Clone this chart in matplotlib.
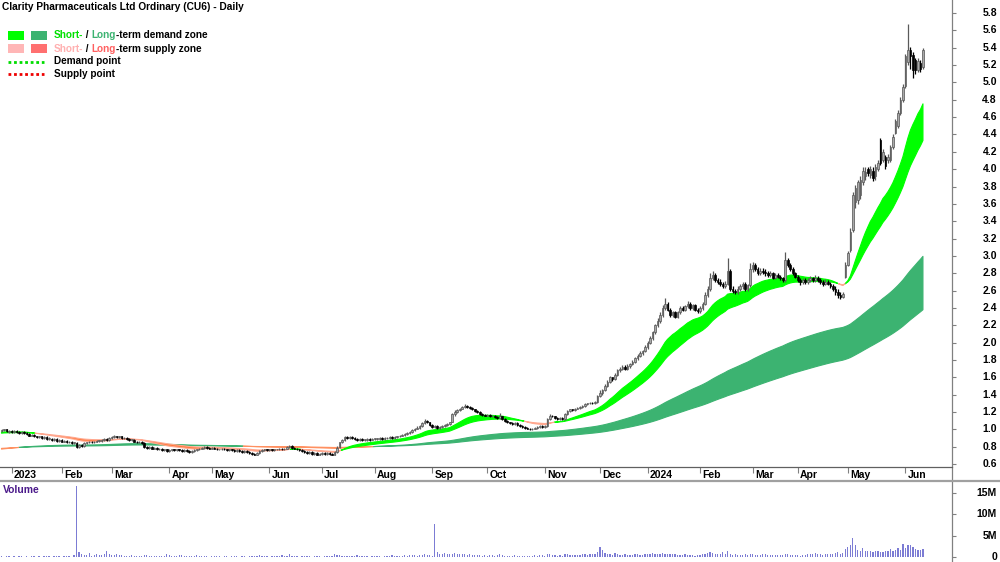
import numpy as np
import matplotlib
matplotlib.use('Agg')
import matplotlib.pyplot as plt
from matplotlib.patches import Rectangle
from matplotlib.lines import Line2D
from matplotlib.transforms import blended_transform_factory

FONT = ['Liberation Sans', 'DejaVu Sans']

# ---------------- data (prices in cents, volume in 0.1M) ----------------
opens = [
98,99,100,97,98,97,98,97,96,97, 96,95,93,94,92,91,92,90,91,89,
89,88,89,87,88,86,87,85,86,84, 84,80,82,81,84,85,86,85,86,87,
87,88,89,88,90,91,92,91,92,90, 90,89,88,88,86,85,86,84,80,79,
80,78,79,77,78,76,77,75,76,77, 76,77,76,75,76,75,74,75,76,77,
78,79,80,79,78,79,78,77,77,78, 77,76,77,76,75,76,75,74,75,74,
73,72,71,73,75,76,77,76,77,76, 77,77,78,77,78,80,81,79,78,77,
76,75,74,73,74,72,73,71,72,73, 72,73,72,71,74,80,85,88,91,90,
91,90,89,88,89,88,88,89,88,89, 89,89,90,89,90,90,91,90,91,92,
93,94,95,96,97,99,101,102,104,107, 110,108,105,103,104,102,103,104,105,106,
109,118,120,122,124,126,127,126,125,123, 121,120,118,117,116,117,115,116,114,113,
115,112,110,108,107,106,107,105,104,103, 102,101,100,101,102,103,104,103,104,112,
116,115,113,112,113,112,118,121,123,122, 124,125,126,127,129,130,131,130,132,138,
142,145,150,155,160,158,163,168,170,172, 170,173,175,178,182,185,188,190,195,200,
205,212,220,225,232,240,245,238,232,235, 230,235,240,238,242,245,240,243,238,236,
240,245,255,262,275,278,272,270,268,265, 268,283,262,260,258,262,265,268,262,266,
285,290,285,280,283,282,280,278,280,275, 278,276,274,272,295,290,285,280,276,272,
270,272,270,272,274,272,275,272,270,268, 270,268,265,262,258,255,253,276,290,307,
330,362,365,370,385,392,400,393,398,392, 400,434,410,414,410,410,425,442,450,465,
480,496,523,537,532,526,514,522,518]
highs = [
101,101,101,99,99,99,99,98,98,98, 97,96,95,95,93,93,93,92,92,91,
90,90,90,89,89,88,88,87,87,86, 85,83,83,85,86,87,87,87,88,88,
89,90,90,91,92,94,93,93,93,91, 91,90,89,89,87,87,87,85,81,81,
81,80,80,79,79,78,78,77,78,78, 78,78,77,77,77,76,76,77,78,79,
80,81,81,80,80,80,79,78,79,79, 78,78,78,77,77,77,76,76,76,75,
74,73,74,76,77,78,78,78,78,78, 78,79,79,79,81,82,82,80,79,78,
77,76,75,75,75,74,74,73,74,74, 74,74,73,75,81,86,89,92,92,92,
92,91,90,90,90,89,90,90,90,90, 90,91,91,91,91,92,92,92,93,94,
95,96,97,98,100,102,104,105,109,112, 111,109,106,105,105,104,105,106,107,109,
119,122,123,125,127,129,128,127,126,124, 122,121,119,118,118,118,117,117,115,119,
116,113,111,109,108,108,108,106,105,104, 103,102,102,103,104,105,105,105,113,118,
117,116,114,114,114,119,122,124,124,125, 126,127,128,130,131,132,132,133,140,146,
147,152,157,162,161,165,170,172,174,174, 175,177,180,184,187,190,192,197,202,208,
214,222,228,235,243,252,247,240,237,237, 237,242,242,244,248,247,245,245,240,242,
247,258,265,280,283,280,275,273,270,271, 298,285,265,262,265,268,270,270,268,292,
293,292,287,286,286,285,283,283,282,280, 280,278,276,304,298,292,287,282,278,275,
275,274,275,277,276,278,277,274,272,273, 272,270,268,265,262,258,258,293,306,332,
374,382,388,392,402,403,403,404,402,406, 410,436,423,416,418,428,440,458,468,483,
498,533,567,541,535,528,528,526,540]
lows = [
97,98,97,96,96,96,96,95,95,95, 94,92,92,91,90,90,89,89,88,88,
87,87,86,86,85,85,84,84,83,83, 79,79,80,80,83,84,84,84,85,86,
86,87,87,87,89,90,90,90,89,89, 88,87,87,85,84,84,83,79,78,78,
77,77,76,76,75,75,74,74,75,75, 75,75,74,74,74,73,73,74,75,76,
77,78,78,77,77,77,76,76,76,76, 75,75,75,74,74,74,73,73,73,72,
71,70,70,72,74,75,75,75,75,75, 76,76,76,76,77,79,78,77,76,75,
74,73,72,72,71,71,70,70,71,71, 71,71,70,70,73,79,84,87,89,89,
89,88,87,87,87,87,87,87,88,88, 88,88,88,88,89,89,89,89,90,91,
92,93,94,95,96,98,100,101,103,106, 107,104,102,102,101,101,102,103,104,105,
108,116,119,121,123,125,125,124,122,120, 119,117,116,115,115,114,114,113,112,112,
111,109,107,106,105,105,104,103,102,101, 100,99,99,100,101,102,102,102,103,111,
114,112,111,111,111,111,117,120,121,121, 123,124,125,126,128,129,129,129,131,137,
140,144,149,154,156,157,162,166,168,168, 169,171,174,177,180,183,186,189,193,198,
203,210,218,223,230,238,236,230,230,228, 228,233,236,236,240,238,238,236,234,234,
238,243,253,260,272,270,268,265,263,263, 266,260,257,256,256,260,262,260,260,264,
282,283,278,278,279,277,276,276,273,273, 274,272,270,270,287,283,278,274,270,267,
268,268,268,270,270,270,270,268,265,266, 266,263,260,255,252,250,251,274,288,305,
328,355,360,366,382,388,392,390,386,388, 398,405,408,400,407,408,423,440,448,462,
478,494,520,515,505,510,512,512,515]
closes = [
99,100,98,98,97,98,97,96,97,96, 95,93,94,92,91,92,90,91,89,89,
88,89,87,88,86,87,85,86,84,85, 80,82,81,84,85,86,85,86,87,87,
88,89,88,90,91,92,91,92,90,90, 89,88,88,86,85,86,84,80,79,80,
78,79,77,78,76,77,75,76,77,76, 77,76,75,76,75,74,75,76,77,78,
79,80,79,78,79,78,77,77,78,77, 76,77,76,75,76,75,74,75,74,73,
72,71,73,75,76,77,76,77,76,77, 77,78,77,78,80,81,79,78,77,76,
75,74,73,74,72,73,71,72,73,72, 73,72,71,74,79,85,88,91,90,91,
90,89,88,89,88,88,89,88,89,89, 89,90,89,90,90,91,90,91,92,93,
94,95,96,97,99,101,102,104,107,110, 108,105,103,104,102,103,104,105,106,108,
118,120,122,124,126,127,126,125,123,121, 120,118,117,116,117,115,116,114,113,115,
112,110,108,107,106,107,105,104,103,102, 101,100,101,102,103,104,103,104,112,116,
115,113,112,113,112,118,121,123,122,124, 125,126,127,129,130,131,130,132,138,142,
145,150,155,160,158,163,168,170,172,170, 173,175,178,182,185,188,190,195,200,205,
212,220,225,232,240,245,238,232,235,230, 235,240,238,242,245,240,243,238,236,240,
245,255,262,275,278,272,270,268,265,268, 283,262,260,258,262,265,268,262,266,285,
290,285,280,283,282,280,278,280,275,278, 276,274,272,295,290,285,280,276,272,270,
272,270,272,274,272,275,272,270,268,270, 268,265,262,258,255,253,256,290,303,328,
370,378,385,388,398,397,396,400,390,403, 407,407,420,404,414,425,437,455,465,480,
495,530,537,530,514,514,525,515,537]
volumes = [
3,2,4,3,2,3,2,4,3,2, 3,2,3,4,2,3,2,3,4,3, 2,3,4,3,2,3,4,3,2,5,
166,12,8,6,5,10,4,6,8,5, 6,7,15,9,6,5,7,6,5,4, 4,3,5,4,3,4,3,6,5,4,
3,4,3,3,4,3,8,5,4,3, 4,6,5,4,3,4,3,4,5,3, 3,4,3,2,3,4,3,3,2,3,
3,2,3,3,4,2,3,3,2,3, 4,3,3,5,3,4,3,2,3,4, 3,4,6,3,4,8,3,4,3,2,
3,4,3,3,2,3,4,3,2,3, 3,4,3,8,6,5,4,3,4,3, 3,4,5,3,4,3,3,2,3,4,
3,3,2,4,3,4,5,4,3,4, 4,5,4,5,6,5,4,6,5,7, 6,5,4,77,12,9,8,10,7,8,
9,10,8,7,8,9,6,7,6,5, 5,6,4,5,4,5,6,4,5,8, 5,4,4,3,4,5,3,4,3,3,
3,4,3,5,4,6,5,4,9,8, 6,5,4,5,4,8,7,6,5,6, 5,6,8,7,6,9,8,7,12,24,
18,10,9,8,6,10,8,6,5,7, 6,5,6,7,8,6,5,7,8,9, 10,9,8,9,10,8,7,9,8,7,
6,5,6,7,5,6,5,4,5,6, 8,9,10,12,11,9,8,7,12,8, 15,8,6,7,6,5,6,7,5,8,
7,6,5,6,7,8,6,5,6,5, 5,6,5,9,7,6,5,6,5,4, 5,6,8,7,9,10,8,7,6,9,
8,7,9,10,12,9,10,20,25,30, 45,28,18,15,22,16,14,15,12,14, 15,13,12,15,16,20,14,17,21,18,
32,22,28,30,25,20,18,17,19]

month_labels = ['2023', 'Feb', 'Mar', 'Apr', 'May', 'Jun', 'Jul', 'Aug', 'Sep', 'Oct',
                'Nov', 'Dec', '2024', 'Feb', 'Mar', 'Apr', 'May', 'Jun']
month_start_idx = [4, 24, 44, 67, 84, 107, 128, 149, 172, 194, 217, 239, 258, 279, 300, 318, 338, 361]
price_ticks = [0.6, 0.8, 1.0, 1.2, 1.4, 1.6, 1.8, 2.0, 2.2, 2.4, 2.6, 2.8, 3.0, 3.2, 3.4,
               3.6, 3.8, 4.0, 4.2, 4.4, 4.6, 4.8, 5.0, 5.2, 5.4, 5.6, 5.8]
volume_ticks = [0, 5, 10, 15]
volume_tick_labels = ['0', '5M', '10M', '15M']

# zone (EMA) settings, starting levels
short_spans = (20, 35)
long_spans = (140, 250)
short_start = (0.965, 0.955)
long_start = (0.77, 0.78)

title = 'Clarity Pharmaceuticals Ltd Ordinary (CU6) - Daily'

# ---------------- figure ----------------
W, H = 1000, 562
fig = plt.figure(figsize=(W / 100, H / 100), dpi=100)
fig.patch.set_facecolor('white')

def fy(py):
    return 1 - py / H

ax = fig.add_axes([0, fy(467), 952 / W, fy(0) - fy(467)])
axv = fig.add_axes([0, 0, 952 / W, fy(481)])

o = np.array(opens) / 100
h = np.array(highs) / 100
l = np.array(lows) / 100
c = np.array(closes) / 100
v = np.array(volumes) / 10
x = np.arange(len(c))

def ema(values, span, start):
    a = 2 / (span + 1)
    out = np.empty(len(values))
    e = start
    for k, val in enumerate(values):
        e = e + a * (val - e)
        out[k] = e
    return out

sf = ema(c, short_spans[0], short_start[0])
ss = ema(c, short_spans[1], short_start[1])
lf = ema(c, long_spans[0], long_start[0])
ls = ema(c, long_spans[1], long_start[1])

# long-term zone
ax.fill_between(x, lf, ls, where=lf >= ls, interpolate=True, facecolor='#3cb371',
                edgecolor='#3cb371', lw=0.8, zorder=1)
ax.fill_between(x, lf, ls, where=lf < ls, interpolate=True, facecolor='#ff7a3a',
                edgecolor='#ff9060', lw=0.8, zorder=1)
# short-term zone
ax.fill_between(x, sf, ss, where=sf >= ss, interpolate=True, facecolor='#00ff00',
                edgecolor='#00ff00', lw=0.8, zorder=2)
ax.fill_between(x, sf, ss, where=sf < ss, interpolate=True, facecolor='#ff7a3a',
                edgecolor='#ffa890', lw=0.8, zorder=2)

# candles
up = c >= o
wick_cols = np.where(up, '#5a5a5a', '#000000')
ax.vlines(x, l, h, colors=wick_cols, lw=0.9, zorder=3)
body_h = np.maximum(np.abs(c - o), 0.006)
body_b = np.minimum(o, c)
ax.bar(x[up], body_h[up], bottom=body_b[up], width=0.64, facecolor='#a8a8a8',
       edgecolor='#555555', lw=0.5, zorder=4)
ax.bar(x[~up], body_h[~up], bottom=body_b[~up], width=0.64, facecolor='#000000',
       edgecolor='#000000', lw=0.5, zorder=4)

xlim = (-0.6, 379.6)
ax.set_xlim(*xlim)
ax.set_ylim(0.567, 5.95)
for s in ax.spines.values():
    s.set_visible(False)
ax.set_yticks(price_ticks)
ax.yaxis.tick_right()
ax.tick_params(axis='y', direction='out', length=3, color='#808080', labelright=False, labelleft=False)
ax.set_xticks(month_start_idx)
ax.tick_params(axis='x', direction='out', length=4, color='#808080', labelbottom=False)

tr_y = blended_transform_factory(fig.transFigure, ax.transData)
for t in price_ticks:
    ax.text(0.997, t, f'{t:.1f}', transform=tr_y, ha='right', va='center', fontsize=7.5,
            fontweight='bold', family=FONT, clip_on=False)

tr_x = blended_transform_factory(ax.transData, fig.transFigure)
for idx, lab in zip(month_start_idx, month_labels):
    ax.text(idx + 0.9, fy(474.5), lab, transform=tr_x, ha='left', va='center', fontsize=7.5,
            fontweight='bold', family=FONT, clip_on=False)

# volume
axv.bar(x, v, width=0.5, color='#7c7cd4', zorder=2)
axv.set_xlim(*xlim)
axv.set_ylim(-1.047, 17.79)
for s in axv.spines.values():
    s.set_visible(False)
axv.set_xticks([])
axv.set_yticks(volume_ticks)
axv.yaxis.tick_right()
axv.tick_params(axis='y', direction='out', length=3, color='#808080', labelright=False, labelleft=False)
tr_vy = blended_transform_factory(fig.transFigure, axv.transData)
for t, lab in zip(volume_ticks, volume_tick_labels):
    axv.text(0.997, t, lab, transform=tr_vy, ha='right', va='center', fontsize=7.5,
             fontweight='bold', family=FONT, clip_on=False)
fig.text(3 / W, fy(490), 'Volume', color='#4b1a8a', fontsize=7.5, fontweight='bold',
         family=FONT, ha='left', va='center')

# frame lines
fig.add_artist(Line2D([952 / W, 952 / W], [0, 1], transform=fig.transFigure, color='#808080', lw=0.9))
fig.add_artist(Line2D([0, 952 / W], [fy(467), fy(467)], transform=fig.transFigure, color='#606060', lw=0.9))
fig.add_artist(Line2D([0, 1], [fy(481), fy(481)], transform=fig.transFigure, color='#a0a0a0', lw=1.6))

# title
fig.text(2 / W, fy(7), title, fontsize=7.3, fontweight='bold', family=FONT, ha='left', va='center')

# legend
renderer = fig.canvas.get_renderer()

def chain(x_px, y_px, parts, size=7.2, weight='bold'):
    xx = x_px
    for s, col in parts:
        t = fig.text(xx / W, fy(y_px), s, color=col, fontsize=size, fontweight=weight,
                     family=FONT, ha='left', va='center')
        xx += t.get_window_extent(renderer=renderer).width

def swatch(x0, y0, x1, y1, col):
    fig.add_artist(Rectangle((x0 / W, fy(y1)), (x1 - x0) / W, (y1 - y0) / H,
                             transform=fig.transFigure, facecolor=col, edgecolor='none'))

swatch(8, 31, 24, 40, '#00ff00')
swatch(31, 31, 47, 40, '#3cb371')
swatch(8, 44, 24, 53, '#ffb6b6')
swatch(31, 44, 47, 53, '#ff7070')
chain(54, 35.5, [('Short-', '#00e000'), (' / ', 'black'), ('Long', '#3cb371'),
                 ('-term demand zone', 'black')])
chain(54, 48.5, [('Short-', '#ffb0b0'), (' / ', 'black'), ('Long', '#ff6060'),
                 ('-term supply zone', 'black')])
fig.add_artist(Line2D([8 / W, 44 / W], [fy(62), fy(62)], transform=fig.transFigure,
                      color='#00dd00', lw=2, ls=(0, (1, 1))))
fig.add_artist(Line2D([8 / W, 44 / W], [fy(74), fy(74)], transform=fig.transFigure,
                      color='#ee0000', lw=2, ls=(0, (1, 1))))
chain(54, 61.5, [('Demand point', 'black')])
chain(54, 74, [('Supply point', 'black')])

fig.savefig('out.png', dpi=100, facecolor='white')
